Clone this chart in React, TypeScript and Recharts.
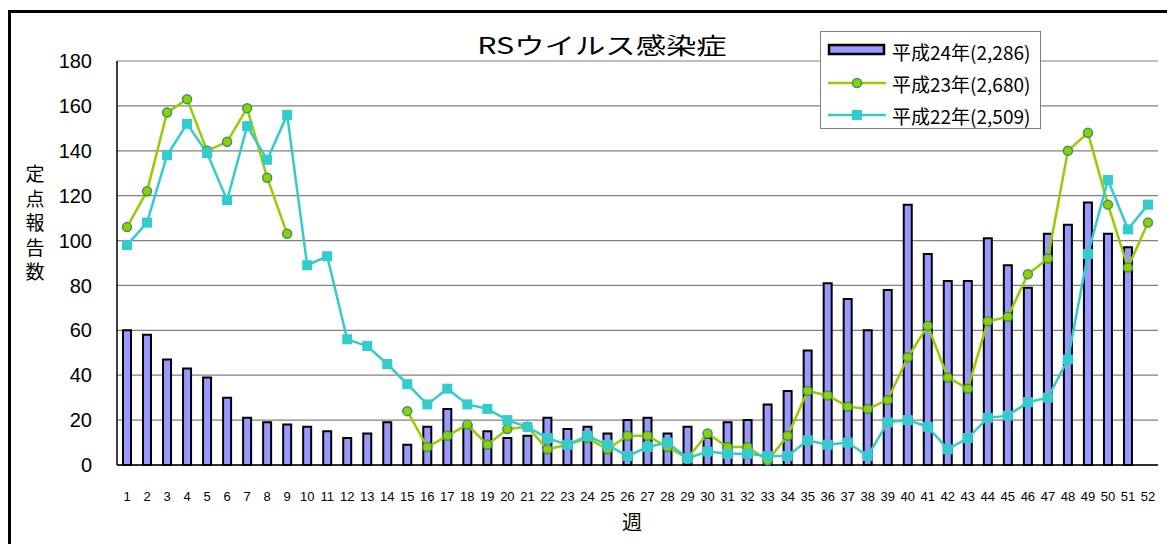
import { ComposedChart, Bar, Line, XAxis, YAxis, CartesianGrid } from 'recharts';

const weeks = ['1','2','3','4','5','6','7','8','9','10','11','12','13','14','15','16','17','18','19','20','21','22','23','24','25','26','27','28','29','30','31','32','33','34','35','36','37','38','39','40','41','42','43','44','45','46','47','48','49','50','51','52'];

// 平成24年
const h24 = [60,58,47,43,39,30,21,19,18,17,15,12,14,19,9,17,25,18,15,12,13,21,16,17,14,20,21,14,17,12,19,20,27,33,51,81,74,60,78,116,94,82,82,101,89,79,103,107,117,103,97,null];
// 平成23年
const h23 = [106,122,157,163,140,144,159,128,103,null,null,null,null,null,24,8,13,18,9,16,17,7,9,12,7,13,13,8,3,14,8,8,2,13,33,31,26,25,29,48,62,39,34,64,66,85,92,140,148,116,88,108];
// 平成22年
const h22 = [98,108,138,152,139,118,151,136,156,89,93,56,53,45,36,27,34,27,25,20,17,12,9,13,9,4,8,10,3,6,5,5,4,4,11,9,10,4,19,20,17,7,12,21,22,28,30,47,94,127,105,116];

const yTicks = [0, 20, 40, 60, 80, 100, 120, 140, 160, 180];
const boundaryTicks = Array.from({ length: 53 }, (_, i) => i);

const legendItems = [
  { label: '平成24年(2,286)', kind: 'bar' },
  { label: '平成23年(2,680)', kind: 'circle' },
  { label: '平成22年(2,509)', kind: 'square' },
];

const data = weeks.map((w, i) => ({ week: w, h24: h24[i], h23: h23[i], h22: h22[i] }));

const GREEN = '#99CC00';
const CYAN = '#33CCCC';
const BAR = '#9999FF';
const jp = '"Noto Sans CJK JP", "Noto Sans", sans-serif';
const latin = '"Liberation Sans", Arial, sans-serif';

function SquareDot(props: any) {
  const { cx, cy, index } = props;
  if (cx == null || cy == null) return <g key={`s-${index}`} />;
  return <rect key={`s-${index}`} x={cx - 5} y={cy - 5} width={10} height={10} fill={CYAN} />;
}

function Legend() {
  return (
    <div style={{
      position: 'absolute', left: 820, top: 31, width: 219, height: 96,
      border: '1px solid #808080', background: '#fff', fontFamily: jp, fontSize: 19,
    }}>
      {legendItems.map((it, i) => (
        <div key={it.label} style={{ position: 'absolute', left: 0, top: 3 + i * 32, height: 30, width: 219 }}>
          <svg width={62} height={30} style={{ position: 'absolute', left: 5, top: 0 }}>
            {it.kind === 'bar' && <rect x={3} y={10} width={55} height={9} fill={BAR} stroke="#000" strokeWidth={2.5} />}
            {it.kind === 'circle' && (
              <g>
                <line x1={2} x2={60} y1={16} y2={16} stroke={GREEN} strokeWidth={2.5} />
                <circle cx={31} cy={16} r={4.5} fill={GREEN} stroke="#339966" strokeWidth={1.5} />
              </g>
            )}
            {it.kind === 'square' && (
              <g>
                <line x1={2} x2={60} y1={16} y2={16} stroke={CYAN} strokeWidth={2.5} />
                <rect x={26} y={11} width={10} height={10} fill={CYAN} />
              </g>
            )}
          </svg>
          <span style={{ position: 'absolute', left: 71, top: 2, whiteSpace: 'nowrap', lineHeight: '30px' }}>{it.label}</span>
        </div>
      ))}
    </div>
  );
}

export default function App() {
  return (
    <div style={{ position: 'absolute', left: 0, top: 0, width: 1167, height: 544, overflow: 'hidden', background: '#fff' }}>
      <div style={{ position: 'absolute', left: 8, top: 10, width: 1300, height: 700, border: '3px solid #000', boxSizing: 'border-box' }} />
      <ComposedChart
        width={1167}
        height={544}
        data={data}
        margin={{ top: 61, right: 9, left: 57, bottom: 29 }}
        style={{ position: 'absolute', left: 0, top: 0 }}
      >
        <CartesianGrid vertical={false} stroke="#808080" strokeWidth={1.2} />
        <XAxis
          xAxisId="ticks"
          type="number"
          domain={[0, 52]}
          ticks={boundaryTicks}
          height={0}
          axisLine={false}
          tickSize={4}
          tickLine={{ stroke: '#000' }}
          tickFormatter={() => ''}
        />
        <XAxis
          dataKey="week"
          height={50}
          interval={0}
          axisLine={{ stroke: '#000', strokeWidth: 1.5 }}
          tickLine={false}
          tickSize={0}
          tickMargin={27}
          tick={{ fill: '#000', fontSize: 13, fontFamily: latin }}
        />
        <YAxis
          domain={[0, 180]}
          ticks={yTicks}
          width={60}
          axisLine={{ stroke: '#000', strokeWidth: 1.5 }}
          tickLine={false}
          tickSize={0}
          tickMargin={25}
          tick={{ fill: '#000', fontSize: 20, fontFamily: latin }}
        />
        <YAxis
          yAxisId="right"
          orientation="right"
          width={0}
          tick={false}
          tickLine={false}
          axisLine={{ stroke: '#808080', strokeWidth: 1.5 }}
        />
        <Bar dataKey="h24" barSize={8} fill={BAR} stroke="#000" strokeWidth={2} isAnimationActive={false} />
        <Line
          dataKey="h23"
          stroke={GREEN}
          strokeWidth={2.5}
          dot={{ r: 4.5, fill: GREEN, stroke: '#339966', strokeWidth: 1.5 }}
          isAnimationActive={false}
        />
        <Line
          dataKey="h22"
          stroke={CYAN}
          strokeWidth={2.5}
          dot={SquareDot}
          isAnimationActive={false}
        />
      </ComposedChart>
      <div style={{ position: 'absolute', left: 602, top: 44, transform: 'translate(-50%, -50%) scaleX(1.32)', fontFamily: jp, fontSize: 23, whiteSpace: 'nowrap', lineHeight: 1 }}>
        RSウイルス感染症
      </div>
      <div style={{ position: 'absolute', left: 20, top: 161, width: 30, textAlign: 'center', fontFamily: jp, fontSize: 19, lineHeight: '24.5px' }}>
        {'定点報告数'.split('').map((c) => <div key={c}>{c}</div>)}
      </div>
      <div style={{ position: 'absolute', left: 622, top: 510, fontFamily: jp, fontSize: 20, lineHeight: '24px' }}>週</div>
      <Legend />
    </div>
  );
}
